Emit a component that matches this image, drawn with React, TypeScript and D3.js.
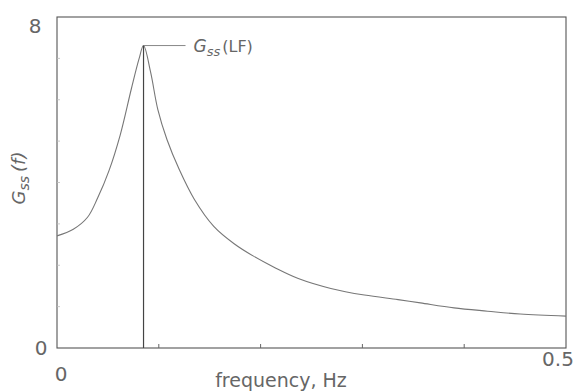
import * as d3 from "d3";

// spectrum G_ss(f)
const freq = [0, 0.016, 0.03, 0.04, 0.051, 0.062, 0.073, 0.0805, 0.085, 0.092, 0.099, 0.108, 0.12, 0.135, 0.154, 0.174, 0.193, 0.215, 0.237, 0.269, 0.302, 0.335, 0.357, 0.39, 0.423, 0.455, 0.5];
const gss = [2.71, 2.87, 3.16, 3.63, 4.28, 5.14, 6.26, 6.98, 7.31, 6.66, 5.77, 5.04, 4.32, 3.59, 2.94, 2.52, 2.22, 1.93, 1.68, 1.44, 1.28, 1.17, 1.09, 0.97, 0.89, 0.82, 0.77];
const peakFreq = 0.085;
const peakValue = 7.31;
const xTicks = [0.1, 0.2, 0.3, 0.4];
const yTicks = [1, 2, 3, 4, 5, 6, 7];
const xDomain = [0, 0.5];
const yDomain = [0, 8];

const W = 581;
const H = 391;
const margin = { top: 17, right: 15, bottom: 43, left: 57 };
const font = "'DejaVu Sans', sans-serif";
const ink = "#666";

export default function App() {
    const x = d3.scaleLinear().domain(xDomain).range([margin.left, W - margin.right]);
    const y = d3.scaleLinear().domain(yDomain).range([H - margin.bottom, margin.top]);

    const pts = freq.map((f, i) => [f, gss[i]] as [number, number]);
    const line = d3
        .line<[number, number]>()
        .x((d) => x(d[0]))
        .y((d) => y(d[1]))
        .curve(d3.curveCatmullRom.alpha(0.5));

    const x0 = x(0);
    const x1 = x(0.5);
    const y0 = y(0);
    const y1 = y(8);

    return (
        <svg
            width={W}
            height={H}
            style={{ position: "absolute", left: 0, top: 0, background: "#fff" }}
        >
            {/* frame */}
            <rect x={x0} y={y1} width={x1 - x0} height={y0 - y1} fill="none" stroke="#555" strokeWidth={1.1} />

            {/* ticks */}
            {xTicks.map((t) => (
                <line key={"xt" + t} x1={x(t)} x2={x(t)} y1={y0} y2={y0 - 4} stroke="#666" strokeWidth={1} />
            ))}
            {yTicks.map((t) => (
                <line key={"yt" + t} x1={x0} x2={x0 + 3} y1={y(t)} y2={y(t)} stroke="#bbb" strokeWidth={0.8} />
            ))}

            {/* curve */}
            <path d={line(pts) || ""} fill="none" stroke="#777" strokeWidth={1.1} />

            {/* vertical line at the LF peak */}
            <line x1={x(peakFreq)} x2={x(peakFreq)} y1={y0} y2={y(peakValue)} stroke="#444" strokeWidth={1.2} />

            {/* annotation */}
            <line x1={x(peakFreq)} x2={x(peakFreq) + 42} y1={y(peakValue)} y2={y(peakValue)} stroke="#888" strokeWidth={1} />
            <text x={x(peakFreq) + 50} y={y(peakValue) + 6} fontFamily={font} fontSize={17} fill={ink}>
                <tspan fontStyle="italic">G</tspan>
                <tspan fontStyle="italic" fontSize={13} dy={4}>ss</tspan>
                <tspan dy={-4} dx={2} fontSize={16}>(LF)</tspan>
            </text>

            {/* axis labels */}
            <text x={x0 - 22} y={y1 + 16} textAnchor="middle" fontFamily={font} fontSize={20} fill={ink}>8</text>
            <text x={x0 - 16} y={y0 + 7} textAnchor="middle" fontFamily={font} fontSize={20} fill={ink}>0</text>
            <text x={x0 + 4} y={y0 + 33} textAnchor="middle" fontFamily={font} fontSize={20} fill={ink}>0</text>
            <text x={x1 - 8} y={y0 + 18} textAnchor="middle" fontFamily={font} fontSize={20} fill={ink}>0.5</text>
            <text x={281} y={y0 + 39} textAnchor="middle" fontFamily={font} fontSize={19} fill={ink}>frequency, Hz</text>

            <text transform={`translate(25,178) rotate(-90)`} textAnchor="middle" fontFamily={font} fontSize={18} fill={ink}>
                <tspan fontStyle="italic">G</tspan>
                <tspan fontStyle="italic" fontSize={14} dy={4}>ss</tspan>
                <tspan dy={-4} dx={4} fontStyle="italic">(f)</tspan>
            </text>
        </svg>
    );
}
